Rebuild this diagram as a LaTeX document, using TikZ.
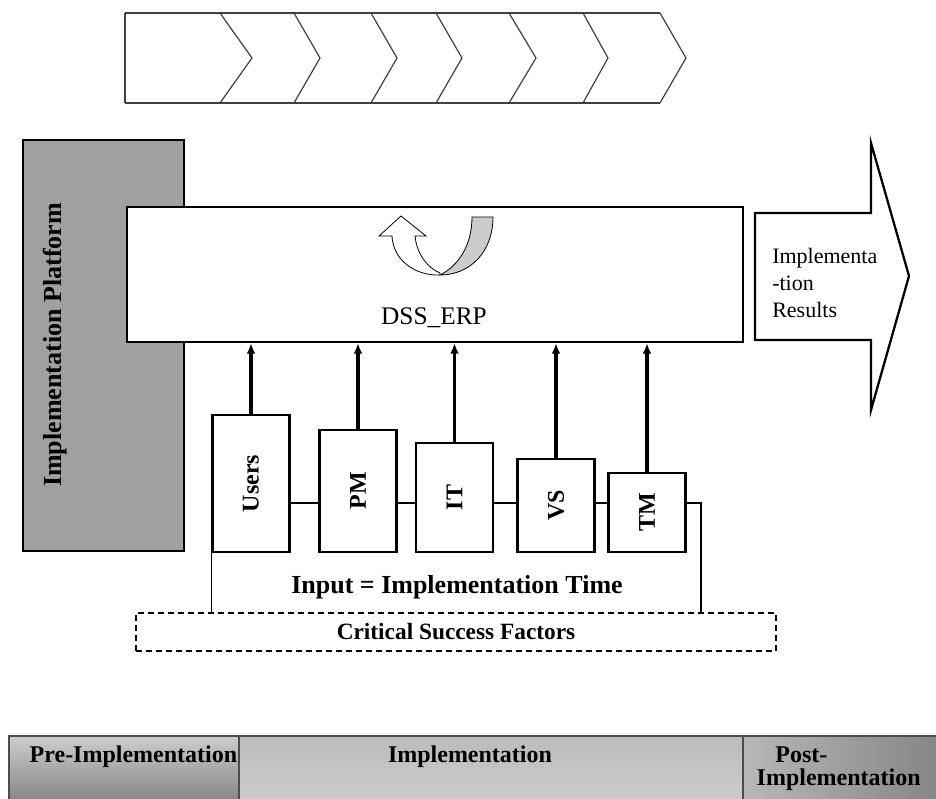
\documentclass[tikz,border=0pt]{standalone}
\usepackage{fontspec}
\setmainfont{Liberation Serif}
\usepackage{tikz}
\usetikzlibrary{positioning,arrows.meta,calc}
\definecolor{platgray}{HTML}{A0A0A0}
\definecolor{ribbongray}{HTML}{CCCCCC}
\definecolor{barlight}{HTML}{CDCDCD}
\definecolor{bardark}{HTML}{858585}

\begin{document}
\begin{tikzpicture}[
    x=0.75pt, y=-0.75pt,
    every node/.style={font=\fontsize{18}{20}\selectfont},
    chev/.style={draw=black!75,line width=0.9pt},
    block/.style={draw,line width=1.5pt,inner sep=0pt},
    factor/.style={draw,line width=1.6pt,fill=white,minimum width=57.75pt,inner sep=0pt,anchor=south,font=\fontsize{18}{20}\selectfont\bfseries},
    feed/.style={-{Latex[length=8pt,width=6.5pt]},line width=2.4pt},
    link/.style={line width=0.8pt},
    phase/.style={draw=black!70,line width=0.8pt,minimum height=49.5pt,inner sep=0pt,outer sep=0pt},
    phasetxt/.style={font=\fontsize{18}{17}\selectfont\bfseries,align=left},
]
\useasboundingbox (0,0) rectangle (936,799);

% Chevron strip on top
\draw[chev] (125,13) -- (660,13);
\draw[chev] (125,103) -- (660,103);
\draw[chev] (125,13) -- (125,103);
\draw[chev] (220,13) -- (252,58) -- (220,103);
\draw[chev] (294,13) -- (320,58) -- (294,103);
\draw[chev] (371,13) -- (397,58) -- (371,103);
\draw[chev] (436,13) -- (462,58) -- (436,103);
\draw[chev] (509,13) -- (536,58) -- (509,103);
\draw[chev] (583,13) -- (608,58) -- (583,103);
\draw[chev] (660,13) -- (686,58) -- (660,103);

% Platform and the DSS_ERP block
\node[block,fill=platgray,minimum width=120.75pt,minimum height=308.25pt] (plat) at (103.5,345.5) {};
\node[font=\fontsize{19.5}{22}\selectfont\bfseries] (platlbl) at (55,345) {\rotatebox{90}{Implementation Platform}};
\node[block,fill=white,minimum width=462pt,minimum height=101.25pt] (dss) at (435,274.5) {};
\node[font=\fontsize{19}{21}\selectfont] (dsslbl) at (434,318) {DSS\_ERP};

% U-turn icon
\filldraw[fill=ribbongray,line width=0.6pt] (472,217) -- (493,217) .. controls (493,252) and (470,275) .. (440,275) .. controls (458,266) and (472,246) .. (472,217) -- cycle;
\filldraw[fill=white,line width=0.6pt] (440,275) .. controls (415,276) and (393,260) .. (392,236) -- (379,236) -- (401,216) -- (426,236) -- (415,236) .. controls (417,255) and (428,268) .. (440,273) -- cycle;

% Results arrow
\draw[line width=1.7pt,fill=white] (755,213) -- (871,213) -- (871,143) -- (909,276) -- (871,410) -- (871,340) -- (755,340) -- cycle;
\node[font=\fontsize{16.5}{20.25}\selectfont,align=left,anchor=west,inner sep=0pt] (results) at (772,283) {Implementa\\-tion\\Results};

% Success factors
\node[factor,minimum height=102.75pt] (users) at (251,553) {\rotatebox{90}{Users}};
\node[factor,minimum height=91.5pt] (pm) at (358,553) {\rotatebox{90}{PM}};
\node[factor,minimum height=81.75pt] (it) at (454.5,553) {\rotatebox{90}{IT}};
\node[factor,minimum height=69.75pt] (vs) at (556,553) {\rotatebox{90}{VS}};
\node[factor,minimum height=59.25pt] (tm) at (647,553) {\rotatebox{90}{TM}};

\draw[feed] (users.north) -- (users.north |- dss.south);
\draw[feed] (pm.north) -- (pm.north |- dss.south);
\draw[feed] (it.north) -- (it.north |- dss.south);
\draw[feed] (vs.north) -- (vs.north |- dss.south);
\draw[feed] (tm.north) -- (tm.north |- dss.south);

\coordinate (lnk) at (0,503);
\coordinate (brk) at (701,613);
\draw[link] (users.east |- lnk) -- (pm.west |- lnk);
\draw[link] (pm.east |- lnk) -- (it.west |- lnk);
\draw[link] (it.east |- lnk) -- (vs.west |- lnk);
\draw[link] (vs.east |- lnk) -- (tm.west |- lnk);
\draw[link] (tm.east |- lnk) -| (brk);
\draw[link] (users.south west) -- (users.south west |- brk);

\node[font=\fontsize{19.5}{22}\selectfont\bfseries] (inp) at (457,587) {Input = Implementation Time};
\node[draw,dash pattern=on 4.5pt off 3pt,line width=0.8pt,minimum width=480pt,minimum height=28.5pt,font=\fontsize{17.5}{20}\selectfont\bfseries] (csf) at (456,632) {Critical Success Factors};

% Phase bar
\node[phase,anchor=north west,minimum width=172.5pt,top color=barlight,bottom color=bardark] (pre) at (9,736) {};
\node[phase,right=0pt of pre,minimum width=378pt,top color=barlight!75!bardark,bottom color=barlight] (mid) {};
\node[phase,right=0pt of mid,minimum width=148pt,left color=barlight!70!bardark,right color=bardark] (post) {};
\node[phasetxt,anchor=west] (pretxt) at (25,757) {Pre-Implementation};
\node[phasetxt] (midtxt) at (470,757) {Implementation};
\node[phasetxt,anchor=west] (posttxt) at (752,768.5) {\hspace*{14pt}Post-\\Implementation};
\end{tikzpicture}
\end{document}
